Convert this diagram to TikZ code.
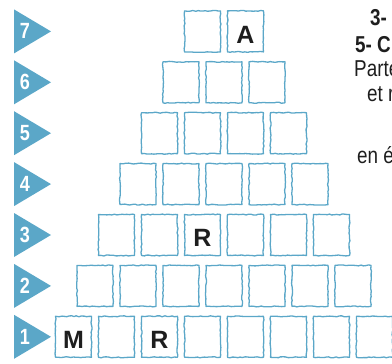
\documentclass[tikz,border=0pt]{standalone}
\usepackage{fontspec}
\setmainfont{Liberation Sans}
\newfontfamily\condsans[FakeStretch=0.82]{Liberation Sans}
\usetikzlibrary{decorations.pathmorphing}
\definecolor{pyrblue}{RGB}{91,167,200}
\definecolor{inkgray}{RGB}{30,30,30}

\begin{document}
\begin{tikzpicture}[x=1pt, y=-1pt, line join=round, line cap=round,
	cell/.style={draw=pyrblue, line width=1.3pt, minimum width=36pt, minimum height=41pt, inner sep=0pt,
		decorate, decoration={random steps, segment length=2.5pt, amplitude=0.5pt}},
	letter/.style={font=\fontsize{25}{25}\selectfont\bfseries, text=inkgray, inner sep=0pt},
	rownum/.style={font=\condsans\fontsize{22}{22}\selectfont\bfseries, text=white, inner sep=0pt},
	clue/.style={anchor=base west, inner sep=0pt, text=inkgray, font=\condsans\fontsize{23}{23}\selectfont}]
	\useasboundingbox (0,0) rectangle (392,364);
	\pgfmathsetseed{7}
	% rows of the pyramid, 1 at the bottom
	\foreach \r [evaluate=\r as \n using int(9-\r), evaluate=\r as \y using 336.8-50.9*(\r-1)] in {1,...,7}{
		\fill[pyrblue] (14,\y-22) -- (51,\y) -- (14,\y+22) -- cycle;
		\node[rownum] (n\r) at (25,\y) {\r};
		\foreach \k in {1,...,\n}
			\node[cell] (c\r\k) at ({73.5+21.5*(\r-1)+43*(\k-1)},\y) {};
	}
	% given letters
	\node[letter] (lA) at ([yshift=-3pt]c72) {A};
	\node[letter] (lR3) at ([yshift=-3pt]c33) {R};
	\node[letter] (lM) at ([yshift=-3pt]c11) {M};
	\node[letter] (lR1) at ([yshift=-3pt]c13) {R};
	% clues, cut by the right edge
	\node[clue, font=\condsans\fontsize{23}{23}\selectfont\bfseries] (t1) at (370,26) {3-};
	\node[clue, font=\condsans\fontsize{23}{23}\selectfont\bfseries] (t2) at (355,52.5) {5- C};
	\node[clue] (t3) at (354,76) {Parte};
	\node[clue] (t4) at (367,101) {et r};
	\node[clue] (t5) at (357,163) {en é};
\end{tikzpicture}
\end{document}
